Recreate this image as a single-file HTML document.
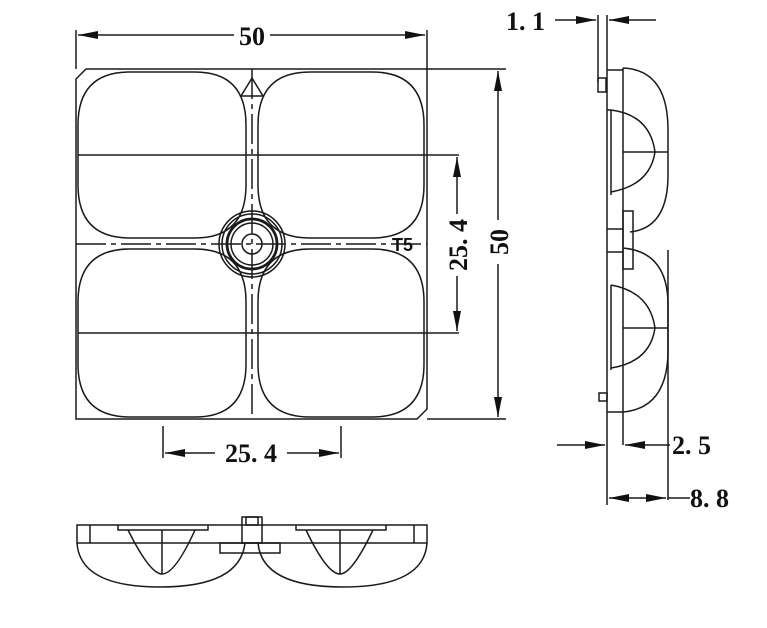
<!DOCTYPE html>
<html><head><style>body{margin:0;background:#fff}svg{display:block}</style></head><body>
<svg width="767" height="628" viewBox="0 0 767 628" xmlns="http://www.w3.org/2000/svg" font-family="Liberation Serif, serif" font-weight="bold">
<defs>
<marker id="b" viewBox="0 0 20 8" refX="20" refY="4" markerWidth="20" markerHeight="8" markerUnits="userSpaceOnUse" orient="auto-start-reverse"><path d="M0,0 L20,4 L0,8z" fill="#111"/></marker>
</defs>
<g fill="none" stroke="#1a1a1a" stroke-width="1.5">
<!-- front view -->
<path d="M86,69 L427,69 L427,409 L417,419 L76,419 L76,79 Z"/>
<line x1="76" y1="30" x2="76" y2="69"/><line x1="427" y1="30" x2="427" y2="69"/>
<line x1="427" y1="69" x2="506" y2="69"/><line x1="427" y1="419" x2="506" y2="419"/>
<path d="M78,125 Q78,72 130,72 L195,72 Q246,72 246,125 L246,185 Q246,238 195,238 L130,238 Q78,238 78,185 Z"/>
<path d="M258,125 Q258,72 310,72 L372,72 Q424,72 424,125 L424,185 Q424,238 372,238 L310,238 Q258,238 258,185 Z"/>
<path d="M78,302 Q78,249 130,249 L195,249 Q246,249 246,302 L246,364 Q246,417 195,417 L130,417 Q78,417 78,364 Z"/>
<path d="M258,302 Q258,249 310,249 L372,249 Q424,249 424,302 L424,364 Q424,417 372,417 L310,417 Q258,417 258,364 Z"/>
<line x1="252" y1="69" x2="252" y2="419" stroke-dasharray="30,5,5,5"/>
<line x1="76" y1="244" x2="427" y2="244" stroke-dasharray="30,5,5,5"/>
<path d="M252,78 L241,96 L263,96 Z"/>
<line x1="78" y1="155" x2="459" y2="155"/><line x1="78" y1="333" x2="459" y2="333"/>
<circle cx="252" cy="244" r="33"/><circle cx="252" cy="244" r="30"/>
<circle cx="252" cy="244" r="25" stroke-width="2.8"/><circle cx="252" cy="244" r="21"/>
<circle cx="252" cy="244" r="10"/>
<line x1="78" y1="35" x2="234" y2="35" marker-start="url(#b)"/>
<line x1="270" y1="35" x2="425" y2="35" marker-end="url(#b)"/>
<line x1="457" y1="157" x2="457" y2="214" marker-start="url(#b)"/>
<line x1="457" y1="276" x2="457" y2="331" marker-end="url(#b)"/>
<line x1="498" y1="71" x2="498" y2="220" marker-start="url(#b)"/>
<line x1="498" y1="264" x2="498" y2="417" marker-end="url(#b)"/>
<!-- bottom dim -->
<line x1="163" y1="426" x2="163" y2="458"/><line x1="341" y1="426" x2="341" y2="458"/>
<line x1="165" y1="453" x2="215" y2="453" marker-start="url(#b)"/>
<line x1="287" y1="453" x2="339" y2="453" marker-end="url(#b)"/>
<!-- side view -->
<line x1="607" y1="15" x2="607" y2="505"/>
<line x1="598" y1="15" x2="598" y2="82"/>
<rect x="598" y="78" width="8" height="14"/>
<line x1="555" y1="20" x2="596" y2="20" marker-end="url(#b)"/>
<line x1="656" y1="20" x2="609" y2="20" marker-end="url(#b)"/>
<line x1="623" y1="68" x2="623" y2="445"/>
<path d="M607,70 L623,70 M623,68 Q668,70 668,130 L668,175 Q668,228 630,232"/>
<path d="M623,248 Q668,252 668,305 L668,350 Q668,408 623,412"/>
<path d="M611,110 Q650,115 655,152 Q650,185 611,192"/>
<path d="M611,285 Q650,292 655,328 Q650,362 611,368"/>
<line x1="623" y1="152" x2="668" y2="152"/><line x1="623" y1="328" x2="668" y2="328"/>
<line x1="607" y1="110" x2="611" y2="110"/><line x1="611" y1="110" x2="611" y2="195"/>
<line x1="611" y1="285" x2="611" y2="370"/>
<rect x="623" y="211" width="10" height="58"/>
<line x1="607" y1="229" x2="623" y2="229"/><line x1="607" y1="252" x2="623" y2="252"/>
<rect x="599" y="393" width="8" height="8"/><line x1="607" y1="412" x2="623" y2="412"/>
<line x1="668" y1="250" x2="668" y2="500"/>
<line x1="557" y1="445" x2="605" y2="445" marker-end="url(#b)"/>
<line x1="670" y1="445" x2="625" y2="445" marker-end="url(#b)"/>
<line x1="609" y1="498" x2="636" y2="498" marker-start="url(#b)"/>
<line x1="636" y1="498" x2="666" y2="498" marker-end="url(#b)"/>
<line x1="668" y1="498" x2="690" y2="498"/>
<!-- bottom view -->
<rect x="77" y="525" width="350" height="18"/>
<line x1="90" y1="525" x2="90" y2="543"/><line x1="414" y1="525" x2="414" y2="543"/>
<path d="M77,543 Q80,587 160,587 Q240,587 245,543"/>
<path d="M258,543 Q262,587 343,587 Q424,587 427,543"/>
<path d="M118,525 L118,530 L208,530 L208,525 M128,530 Q150,574 162,574 Q175,574 195,530 M162,530 L162,574"/>
<path d="M296,525 L296,530 L386,530 L386,525 M306,530 Q327,574 340,574 Q352,574 373,530 M340,530 L340,574"/>
<rect x="242" y="517" width="20" height="26"/><rect x="246" y="517" width="12" height="8"/>
<rect x="220" y="543" width="60" height="10"/>
</g>
<g fill="#111" font-size="26">
<text x="252" y="45" text-anchor="middle">50</text>
<text x="251" y="462" text-anchor="middle">25. 4</text>
<text x="506" y="30">1. 1</text>
<text x="672" y="454">2. 5</text>
<text x="690" y="507">8. 8</text>
<text transform="translate(467,245) rotate(-90)" text-anchor="middle">25. 4</text>
<text transform="translate(508,242) rotate(-90)" text-anchor="middle">50</text>
<text x="392" y="251" font-family="Liberation Sans, sans-serif" font-size="18">T5</text>
</g>
</svg>
</body></html>
